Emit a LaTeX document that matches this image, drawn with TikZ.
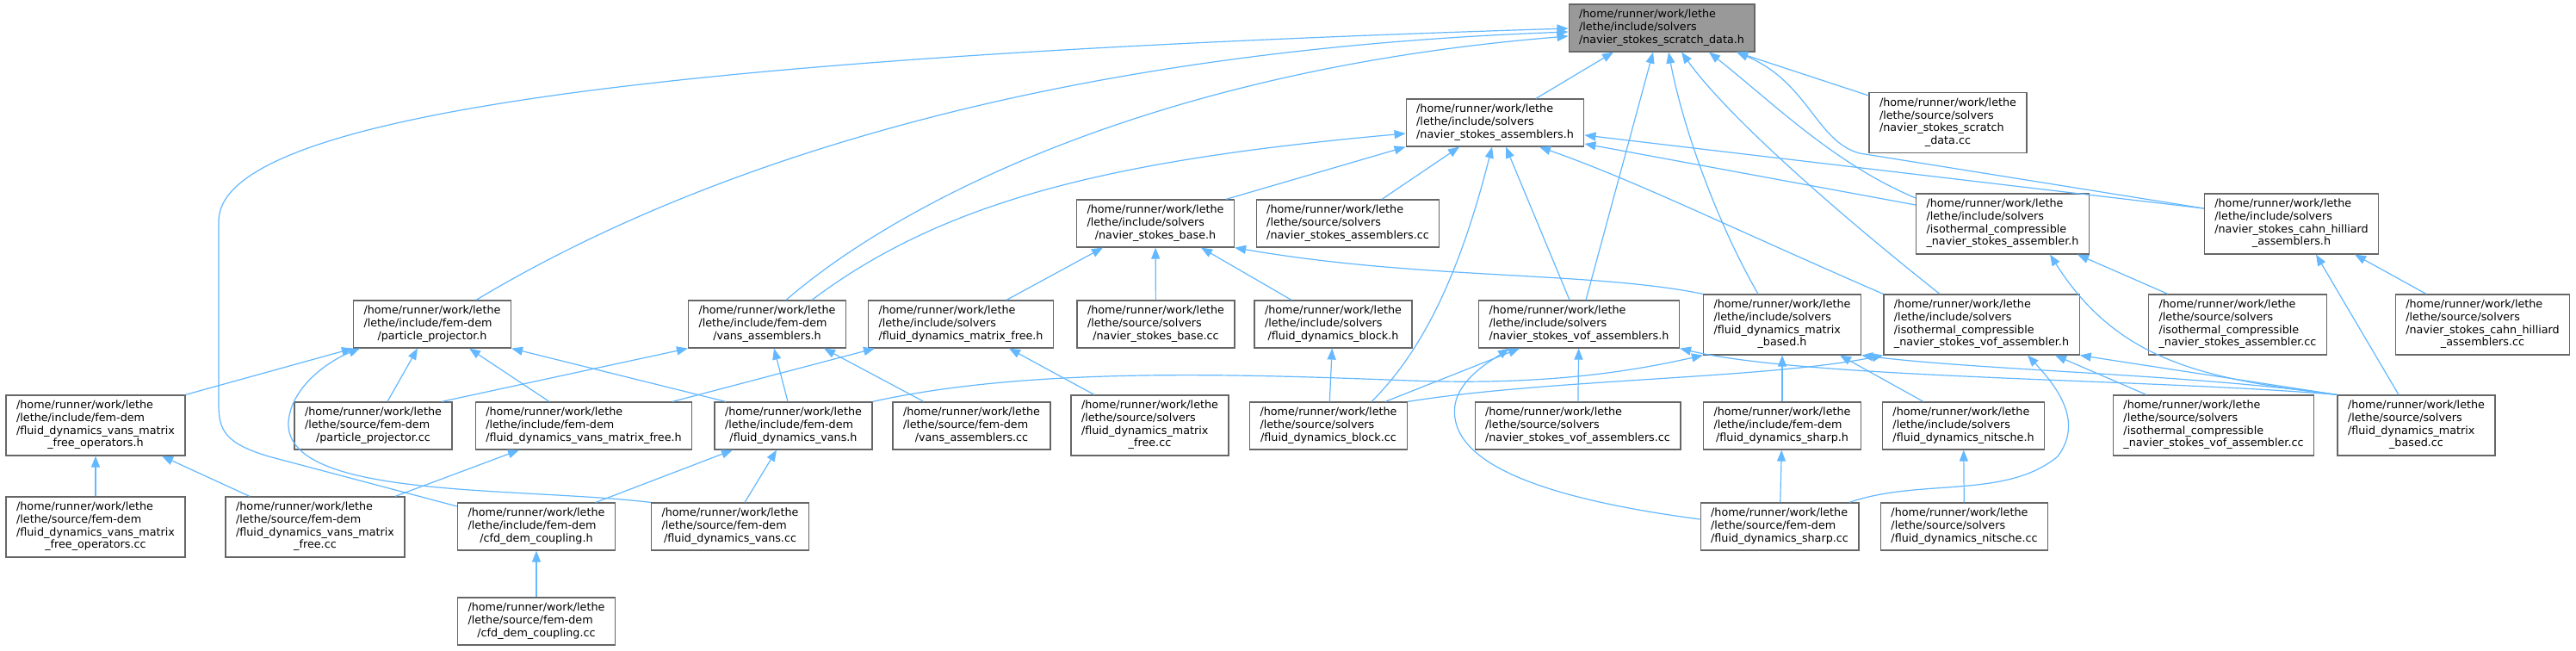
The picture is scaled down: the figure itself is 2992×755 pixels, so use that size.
\documentclass[tikz,border=0pt]{standalone}
\usepackage{fontspec}
\setmainfont{DejaVu Sans}
\usetikzlibrary{arrows.meta}
\definecolor{edgec}{HTML}{63B8FF}
\definecolor{boxc}{HTML}{666666}
\definecolor{rootc}{HTML}{999999}
\newcommand\lastln[1]{\multicolumn{1}{@{}c@{}}{#1}}
\newcommand\lbl[1]{\begin{tabular}{@{}l@{}}#1\end{tabular}}
\newcommand\hp{/home/runner/work/lethe}
\begin{document}
\begin{tikzpicture}[x=0.5pt,y=-0.5pt,
 box/.style={draw=boxc, line width=0.6pt, fill=white, inner xsep=6pt, inner ysep=0pt,
   minimum height=27.5pt, font=\fontsize{6.37pt}{7.35pt}\selectfont, text=black},
 box4/.style={box, minimum height=35pt},
 root/.style={box, fill=rootc},
 edge/.style={draw=edgec, line width=0.6pt, -{Triangle[length=6.5pt,width=5pt]}}]
\fill[white] (0,0) rectangle (2992,755);
\useasboundingbox (0,0) rectangle (2992,755);
% row A
\node[root] (top) at (1930,32.5) {\lbl{\hp\\/lethe/include/solvers\\\lastln{/navier\_stokes\_scratch\_data.h}}};
% row B
\node[box] (nsa_h) at (1736.5,142.5) {\lbl{\hp\\/lethe/include/solvers\\\lastln{/navier\_stokes\_assemblers.h}}};
\node[box4] (nsd_cc) at (2262.5,142.5) {\lbl{\hp\\/lethe/source/solvers\\/navier\_stokes\_scratch\\\lastln{\_data.cc}}};
% row C
\node[box] (nsb_h) at (1342,259.5) {\lbl{\hp\\/lethe/include/solvers\\\lastln{/navier\_stokes\_base.h}}};
\node[box] (nsa_cc) at (1565.5,259.5) {\lbl{\hp\\/lethe/source/solvers\\\lastln{/navier\_stokes\_assemblers.cc}}};
\node[box4] (iso_h) at (2326,260) {\lbl{\hp\\/lethe/include/solvers\\/isothermal\_compressible\\\lastln{\_navier\_stokes\_assembler.h}}};
\node[box4] (ch_h) at (2661.5,260) {\lbl{\hp\\/lethe/include/solvers\\/navier\_stokes\_cahn\_hilliard\\\lastln{\_assemblers.h}}};
% row D
\node[box] (pp_h) at (502,376.5) {\lbl{\hp\\/lethe/include/fem-dem\\\lastln{/particle\_projector.h}}};
\node[box] (va_h) at (891,376.5) {\lbl{\hp\\/lethe/include/fem-dem\\\lastln{/vans\_assemblers.h}}};
\node[box] (fdmf_h) at (1116,376.5) {\lbl{\hp\\/lethe/include/solvers\\\lastln{/fluid\_dynamics\_matrix\_free.h}}};
\node[box] (nsb_cc) at (1342.5,376.5) {\lbl{\hp\\/lethe/source/solvers\\\lastln{/navier\_stokes\_base.cc}}};
\node[box] (fdb_h) at (1548.5,376.5) {\lbl{\hp\\/lethe/include/solvers\\\lastln{/fluid\_dynamics\_block.h}}};
\node[box] (nsvof_h) at (1834,376.5) {\lbl{\hp\\/lethe/include/solvers\\\lastln{/navier\_stokes\_vof\_assemblers.h}}};
\node[box4] (fdmb_h) at (2070,377) {\lbl{\hp\\/lethe/include/solvers\\/fluid\_dynamics\_matrix\\\lastln{\_based.h}}};
\node[box4] (isovof_h) at (2301.5,377) {\lbl{\hp\\/lethe/include/solvers\\/isothermal\_compressible\\\lastln{\_navier\_stokes\_vof\_assembler.h}}};
\node[box4] (iso_cc) at (2599,377) {\lbl{\hp\\/lethe/source/solvers\\/isothermal\_compressible\\\lastln{\_navier\_stokes\_assembler.cc}}};
\node[box4] (ch_cc) at (2883.5,377) {\lbl{\hp\\/lethe/source/solvers\\/navier\_stokes\_cahn\_hilliard\\\lastln{\_assemblers.cc}}};
% row E
\node[box4] (fvmfo_h) at (111,494) {\lbl{\hp\\/lethe/include/fem-dem\\/fluid\_dynamics\_vans\_matrix\\\lastln{\_free\_operators.h}}};
\node[box] (pp_cc) at (433.5,494.5) {\lbl{\hp\\/lethe/source/fem-dem\\\lastln{/particle\_projector.cc}}};
\node[box] (fvmf_h) at (678,494.5) {\lbl{\hp\\/lethe/include/fem-dem\\\lastln{/fluid\_dynamics\_vans\_matrix\_free.h}}};
\node[box] (fv_h) at (921.5,494.5) {\lbl{\hp\\/lethe/include/fem-dem\\\lastln{/fluid\_dynamics\_vans.h}}};
\node[box] (va_cc) at (1128.5,494.5) {\lbl{\hp\\/lethe/source/fem-dem\\\lastln{/vans\_assemblers.cc}}};
\node[box4] (fdmf_cc) at (1335.5,494) {\lbl{\hp\\/lethe/source/solvers\\/fluid\_dynamics\_matrix\\\lastln{\_free.cc}}};
\node[box] (fdb_cc) at (1543,494.5) {\lbl{\hp\\/lethe/source/solvers\\\lastln{/fluid\_dynamics\_block.cc}}};
\node[box] (nsvof_cc) at (1832.5,494.5) {\lbl{\hp\\/lethe/source/solvers\\\lastln{/navier\_stokes\_vof\_assemblers.cc}}};
\node[box] (fds_h) at (2070,494.5) {\lbl{\hp\\/lethe/include/fem-dem\\\lastln{/fluid\_dynamics\_sharp.h}}};
\node[box] (fdn_h) at (2280.5,494.5) {\lbl{\hp\\/lethe/include/solvers\\\lastln{/fluid\_dynamics\_nitsche.h}}};
\node[box4] (isovof_cc) at (2571,494) {\lbl{\hp\\/lethe/source/solvers\\/isothermal\_compressible\\\lastln{\_navier\_stokes\_vof\_assembler.cc}}};
\node[box4] (fdmb_cc) at (2806.5,494) {\lbl{\hp\\/lethe/source/solvers\\/fluid\_dynamics\_matrix\\\lastln{\_based.cc}}};
% row F
\node[box4] (fvmfo_cc) at (111,612) {\lbl{\hp\\/lethe/source/fem-dem\\/fluid\_dynamics\_vans\_matrix\\\lastln{\_free\_operators.cc}}};
\node[box4] (fvmf_cc) at (366,612) {\lbl{\hp\\/lethe/source/fem-dem\\/fluid\_dynamics\_vans\_matrix\\\lastln{\_free.cc}}};
\node[box] (cfd_h) at (623,611.5) {\lbl{\hp\\/lethe/include/fem-dem\\\lastln{/cfd\_dem\_coupling.h}}};
\node[box] (fv_cc) at (848,611.5) {\lbl{\hp\\/lethe/source/fem-dem\\\lastln{/fluid\_dynamics\_vans.cc}}};
\node[box] (fds_cc) at (2067,611.5) {\lbl{\hp\\/lethe/source/fem-dem\\\lastln{/fluid\_dynamics\_sharp.cc}}};
\node[box] (fdn_cc) at (2281.5,611.5) {\lbl{\hp\\/lethe/source/solvers\\\lastln{/fluid\_dynamics\_nitsche.cc}}};
% row G
\node[box] (cfd_cc) at (623,721.5) {\lbl{\hp\\/lethe/source/fem-dem\\\lastln{/cfd\_dem\_coupling.cc}}};

% ---- edges into top
\draw[edge] (nsa_h.north -| 1784,0) -- (top.south -| 1874,0);
\draw[edge] (nsd_cc.west |- 0,111) -- (top.south -| 2017,0);
\draw[edge] (iso_h.west |- 0,230) .. controls (2130,190) and (2060,120) .. (top.south -| 1985,0);
\draw[edge] (ch_h.west |- 0,242) -- (2160,178) .. controls (2110,165) and (2100,95) .. (top.south -| 2017,0);
\draw[edge] (nsvof_h.north -| 1842,0) -- (top.south -| 1920,0);
\draw[edge] (fdmb_h.north -| 2042,0) .. controls (1995,260) and (1955,150) .. (top.south -| 1938,0);
\draw[edge] (isovof_h.north -| 2253,0) .. controls (2150,260) and (2010,140) .. (top.south -| 1953,0);
\draw[edge] (pp_h.north -| 553,0) .. controls (800,200) and (1200,60) .. (top.west |- 0,37);
\draw[edge] (va_h.north -| 913,0) .. controls (1050,230) and (1350,80) .. (top.west |- 0,42);
\draw[edge] (cfd_h.west |- 0,588) -- (312,530) .. controls (262,515) and (254,500) .. (254,470) -- (254,257) .. controls (254,130) and (800,65) .. (top.west |- 0,33);
% ---- into nsa_h
\draw[edge] (nsb_h.north -| 1424,0) -- (nsa_h.south west);
\draw[edge] (nsa_cc.north -| 1605,0) -- (nsa_h.south -| 1695,0);
\draw[edge] (va_h.north -| 943,0) .. controls (1100,230) and (1300,185) .. (nsa_h.west |- 0,155);
\draw[edge] (fdb_cc.north -| 1593,0) .. controls (1660,400) and (1700,300) .. (nsa_h.south -| 1733,0);
\draw[edge] (nsvof_h.north -| 1823,0) -- (nsa_h.south -| 1749,0);
\draw[edge] (isovof_h.north west) .. controls (2000,260) and (1900,210) .. (nsa_h.south -| 1788,0);
\draw[edge] (iso_h.west |- 0,238) -- (nsa_h.east |- 0,167);
\draw[edge] (ch_h.west |- 0,242) -- (nsa_h.east |- 0,157);
% ---- into nsb_h
\draw[edge] (fdmf_h.north -| 1169,0) -- (nsb_h.south -| 1281,0);
\draw[edge] (nsb_cc) -- (nsb_h);
\draw[edge] (fdb_h.north -| 1500,0) -- (nsb_h.south -| 1395,0);
\draw[edge] (fdmb_h.north west) .. controls (1850,315) and (1650,325) .. (nsb_h.south east);
% ---- into iso_h, ch_h
\draw[edge] (iso_cc.north -| 2518,0) -- (iso_h.south -| 2413,0);
\draw[edge] (fdmb_cc.north west) .. controls (2560,440) and (2460,420) .. (iso_h.south -| 2381,0);
\draw[edge] (ch_cc.north -| 2818,0) -- (ch_h.south -| 2735,0);
\draw[edge] (fdmb_cc.north -| 2786,0) -- (ch_h.south -| 2690,0);
% ---- into pp_h
\draw[edge] (fvmfo_h.north east) -- (pp_h.south west);
\draw[edge] (pp_cc.north -| 450,0) -- (pp_h.south -| 485,0);
\draw[edge] (fvmf_h.north -| 638,0) -- (pp_h.south -| 545,0);
\draw[edge] (fv_h.north -| 843,0) -- (pp_h.south east);
\draw[edge] (fv_cc.north west) .. controls (600,565) and (330,580) .. (335,490) .. controls (338,450) and (380,420) .. (pp_h.south -| 418,0);
% ---- into va_h
\draw[edge] (pp_cc.north -| 513,0) -- (va_h.south west);
\draw[edge] (fv_h.north -| 915,0) -- (va_h.south -| 899,0);
\draw[edge] (va_cc.north -| 1073,0) -- (va_h.south -| 957,0);
% ---- into fdmf_h, fdb_h
\draw[edge] (fvmf_h.north -| 781,0) -- (fdmf_h.south -| 1016,0);
\draw[edge] (fdmf_cc.north -| 1271,0) -- (fdmf_h.south -| 1172,0);
\draw[edge] (fdb_cc) -- (fdb_h);
% ---- into nsvof_h
\draw[edge] (fdb_cc.north -| 1609,0) -- (nsvof_h.south -| 1765,0);
\draw[edge] (nsvof_cc) -- (nsvof_h);
\draw[edge] (fds_cc.west |- 0,603) .. controls (1800,580) and (1680,540) .. (1690,470) .. controls (1695,440) and (1730,420) .. (nsvof_h.south -| 1753,0);
\draw[edge] (fdmb_cc.north west) .. controls (2500,440) and (2100,440) .. (nsvof_h.south east);
% ---- into fdmb_h
\draw[edge] (fv_h.north east) .. controls (1200,425) and (1450,435) .. (1638,442) .. controls (1800,448) and (1900,430) .. (fdmb_h.south west);
\draw[edge] (fds_h) -- (fdmb_h);
\draw[edge] (fdn_h.north -| 2234,0) -- (fdmb_h.south -| 2137,0);
\draw[edge] (fdmb_cc.north west) .. controls (2550,435) and (2300,430) .. (fdmb_h.south east);
% ---- into isovof_h
\draw[edge] (fdb_cc.north east) .. controls (1800,440) and (2050,440) .. (isovof_h.south west);
\draw[edge] (isovof_cc.north -| 2493,0) -- (isovof_h.south -| 2387,0);
\draw[edge] (fdmb_cc.north west) -- (isovof_h.south east);
\draw[edge] (fds_cc.north -| 2148,0) .. controls (2230,555) and (2330,580) .. (2390,530) .. controls (2420,490) and (2390,450) .. (isovof_h.south -| 2355,0);
% ---- lower rows
\draw[edge] (fvmfo_cc) -- (fvmfo_h);
\draw[edge] (fvmf_cc.north -| 290,0) -- (fvmfo_h.south -| 188,0);
\draw[edge] (fvmf_cc.north -| 459,0) -- (fvmf_h.south -| 603,0);
\draw[edge] (cfd_h.north -| 692,0) -- (fv_h.south -| 851,0);
\draw[edge] (fv_cc.north -| 865,0) -- (fv_h.south -| 902,0);
\draw[edge] (cfd_cc) -- (cfd_h);
\draw[edge] (fds_cc) -- (fds_h);
\draw[edge] (fdn_cc) -- (fdn_h);
\end{tikzpicture}
\end{document}
